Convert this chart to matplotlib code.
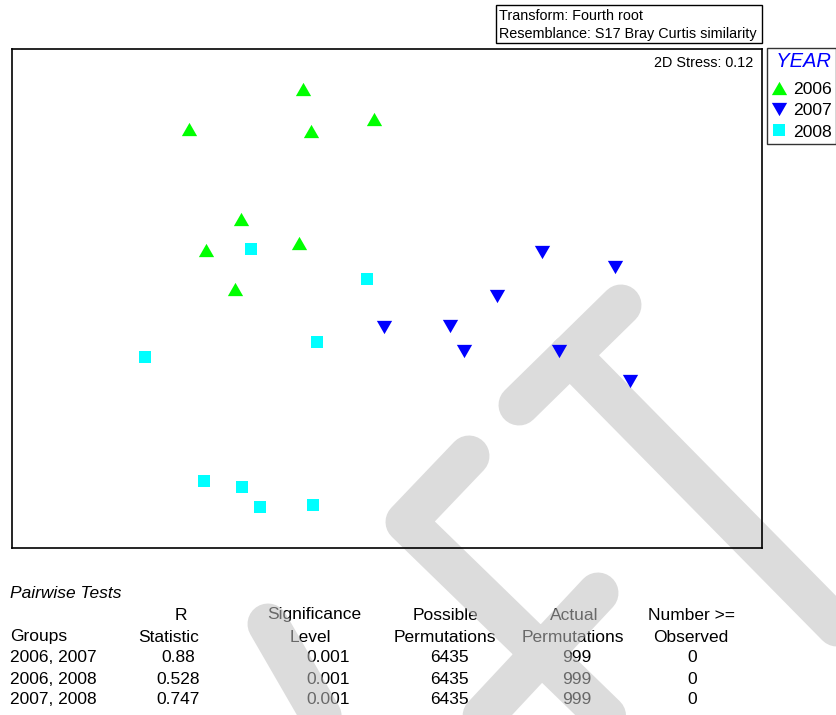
import matplotlib
matplotlib.use('Agg')
import matplotlib.pyplot as plt
import numpy as np
from matplotlib.lines import Line2D
from matplotlib.patches import Rectangle

plt.rcParams['font.family'] = ['Liberation Sans', 'DejaVu Sans']

# MDS coordinates per year
x_2006 = [-0.336, -0.792, -0.304, -0.052, -0.584, -0.724, -0.352, -0.608]
y_2006 = [0.838, 0.678, 0.670, 0.718, 0.318, 0.194, 0.222, 0.038]
x_2007 = [0.620, 0.912, 0.440, -0.012, 0.252, 0.308, 0.688, 0.972]
y_2007 = [0.186, 0.126, 0.010, -0.114, -0.110, -0.210, -0.210, -0.330]
x_2008 = [-0.544, -0.080, -0.280, -0.968, -0.732, -0.580, -0.508, -0.296]
y_2008 = [0.198, 0.078, -0.174, -0.234, -0.730, -0.754, -0.834, -0.826]
years = ['2006', '2007', '2008']
stress = 0.12

# Pairwise test table
groups = ['2006, 2007', '2006, 2008', '2007, 2008']
r_stat = [0.88, 0.528, 0.747]
sig_level = [0.001, 0.001, 0.001]
possible_perms = [6435, 6435, 6435]
actual_perms = [999, 999, 999]
num_ge_obs = [0, 0, 0]

W, H = 837, 715
fig = plt.figure(figsize=(W / 100, H / 100), dpi=100)


def fx(px):
    return px / W


def fy(py):
    return 1 - py / H


# main ordination plot
ax = fig.add_axes([fx(12), fy(548), 750 / W, 499 / H], zorder=3)
ax.set_facecolor('none')
ax.set_xlim(-1.5, 1.5)
ax.set_ylim(-1.0, 1.0)
ax.set_xticks([])
ax.set_yticks([])
for sp in ax.spines.values():
    sp.set_linewidth(1.2)
    sp.set_color('black')

tri_up = [(-1, -0.87), (1, -0.87), (0, 0.87)]
tri_dn = [(-1, 0.87), (1, 0.87), (0, -0.87)]
h1, = ax.plot(x_2006, y_2006, ls='none', marker=tri_up, ms=11, color='#00ff00', mew=0)
h2, = ax.plot(x_2007, y_2007, ls='none', marker=tri_dn, ms=11, color='#0000ff', mew=0)
h3, = ax.plot(x_2008, y_2008, ls='none', marker='s', ms=8.6, color='#00ffff', mew=0)

ax.text((753 - 12) / 750, (548 - 63) / 499, f'2D Stress: {stress}', transform=ax.transAxes,
        ha='right', va='center', fontsize=10.4)

leg = fig.legend([h1, h2, h3], years, loc='upper left', bbox_to_anchor=(fx(767), fy(48)),
                 title=' YEAR', fontsize=12.6, frameon=True, fancybox=False, borderaxespad=0,
                 borderpad=0.25, handlelength=0.9, handletextpad=0.35, labelspacing=0.33,
                 title_fontproperties={'size': 14.5, 'style': 'italic'})
leg.get_title().set_color('#0000ff')
leg.get_frame().set_edgecolor('black')
leg.get_frame().set_linewidth(1.0)
leg._legend_box.align = 'left'
leg._legend_box.sep = 7.8
leg.set_zorder(5)

# transform / resemblance box
fig.add_artist(Rectangle((fx(496), fy(43)), 266 / W, 38 / H, transform=fig.transFigure,
                         facecolor='white', edgecolor='black', lw=1.0, zorder=5))
fig.text(fx(499), fy(16), 'Transform: Fourth root', ha='left', va='center', fontsize=10.4, zorder=6)
fig.text(fx(499), fy(34), 'Resemblance: S17 Bray Curtis similarity', ha='left', va='center',
         fontsize=10.4, zorder=6)

# pairwise tests table
fs = 12.5
fig.text(fx(10), fy(594), 'Pairwise Tests', style='italic', ha='left', va='center', fontsize=fs, zorder=1)
head1 = ['R', 'Significance', 'Possible', 'Actual', 'Number >=']
head2 = ['Statistic', 'Level', 'Permutations', 'Permutations', 'Observed']
head1_x = [181, 314, 446, 574, 692]
head2_x = [169, 310, 445, 573, 691]
col_x = [178, 328, 449, 577, 692]
for t, px in zip(head1, head1_x):
    fig.text(fx(px), fy(615), t, ha='center', va='center', fontsize=fs, zorder=1)
fig.text(fx(10), fy(637), 'Groups', ha='left', va='center', fontsize=fs, zorder=1)
for t, px in zip(head2, head2_x):
    fig.text(fx(px), fy(637), t, ha='center', va='center', fontsize=fs, zorder=1)
row_y = [658, 679, 700]
for i, py in enumerate(row_y):
    fig.text(fx(10), fy(py), groups[i], ha='left', va='center', fontsize=fs, zorder=1)
    vals = [f'{r_stat[i]:g}', f'{sig_level[i]:g}', str(possible_perms[i]),
            str(actual_perms[i]), str(num_ge_obs[i])]
    for v, px in zip(vals, col_x):
        fig.text(fx(px), fy(py), v, ha='center', va='center', fontsize=fs, zorder=1)

# grey watermark strokes, drawn as one path so overlaps are not darker
strokes = [
    ([621, 519], [305, 405]),
    ([570, 900], [355, 690]),
    ([469, 406, 620], [456, 522, 730]),
    ([598, 470], [593, 730]),
    ([268, 335], [624, 740]),
]
wx, wy = [], []
for xs, ys in strokes:
    wx += [fx(v) for v in xs] + [np.nan]
    wy += [fy(v) for v in ys] + [np.nan]
fig.add_artist(Line2D(wx, wy, transform=fig.transFigure, color='#c0c0c0', alpha=0.55,
                      lw=41 * 0.72, solid_capstyle='round', solid_joinstyle='round', zorder=2))

fig.savefig('out.png', dpi=100)
